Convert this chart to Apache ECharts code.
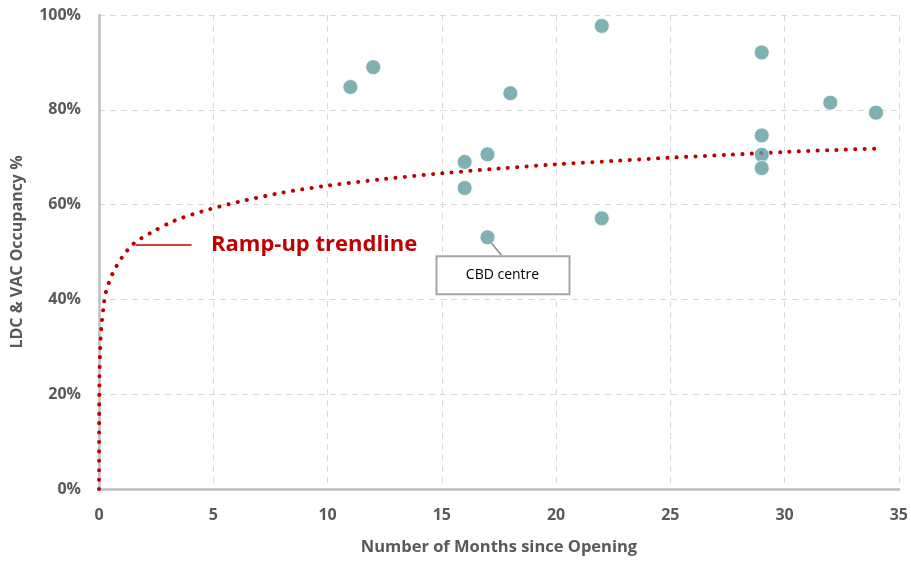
<!DOCTYPE html>
<html><head><meta charset="utf-8">
<script src="https://cdn.jsdelivr.net/npm/echarts@6/dist/echarts.min.js"></script>
<style>html,body{margin:0;padding:0;background:#fff}#c{width:911px;height:561px}</style>
</head><body><div id="c"></div>
<script>
// Observed sites: months since opening, occupancy %
const months = [11, 12, 16, 16, 17, 17, 18, 22, 22, 29, 29, 29, 29, 32, 34];
const occupancy = [84.8, 89.0, 69.0, 63.5, 70.6, 53.1, 83.5, 97.7, 57.1, 92.1, 74.6, 70.5, 67.7, 81.5, 79.4];
// Ramp-up trendline, points
const trendMonths = [0, 0.005, 0.02, 0.05, 0.1, 0.2, 0.3, 0.6, 1, 1.5, 2.25, 3.3, 4.75, 6.4, 8, 10, 12.5, 15, 17.5, 20, 22.5, 25, 27.5, 30, 32, 34];
const trendOcc =    [0, 14, 23.5, 29.5, 34, 38.5, 41.5, 45.5, 48.8, 51.7, 54, 56.6, 58.9, 60.9, 62.5, 64, 65.4, 66.6, 67.6, 68.5, 69.2, 69.9, 70.5, 71.1, 71.5, 71.8];
const xTicks = [0, 5, 10, 15, 20, 25, 30, 35];
const yTicks = [0, 20, 40, 60, 80, 100];
const cbdIndex = 5;

const FONT = '"Open Sans", "Liberation Sans", sans-serif';
const GREY = '#595959';
const chart = echarts.init(document.getElementById('c'));
const scatterData = months.map((m, i) => [m, occupancy[i]]);
const trendData = trendMonths.map((m, i) => [m, trendOcc[i]]);

chart.setOption({
  animation: false,
  grid: {left: 99, right: 9, top: 15, bottom: 65},
  xAxis: {
    type: 'value', min: xTicks[0], max: xTicks[xTicks.length - 1], interval: 5,
    name: 'Number of Months since Opening', nameLocation: 'middle', nameGap: 50,
    nameTextStyle: {color: GREY, fontFamily: FONT, fontWeight: 'bold', fontSize: 16.5},
    axisLine: {show: true, lineStyle: {color: '#BFBFBF', width: 2.5}},
    axisTick: {show: false},
    axisLabel: {color: GREY, fontFamily: FONT, fontWeight: 'bold', fontSize: 16, margin: 18},
    splitLine: {show: true, lineStyle: {color: '#D9D9D9', type: [6, 5], width: 1}}
  },
  yAxis: {
    type: 'value', min: yTicks[0], max: yTicks[yTicks.length - 1], interval: 20,
    name: 'LDC & VAC Occupancy %', nameLocation: 'middle', nameGap: 74,
    nameTextStyle: {color: GREY, fontFamily: FONT, fontWeight: 'bold', fontSize: 16},
    axisLine: {show: true, lineStyle: {color: '#BFBFBF', width: 2.5}},
    axisTick: {show: false},
    axisLabel: {color: GREY, fontFamily: FONT, fontWeight: 'bold', fontSize: 16, margin: 18, formatter: '{value}%'},
    splitLine: {show: true, lineStyle: {color: '#D9D9D9', type: [6, 5], width: 1}}
  },
  series: [
    {
      type: 'line', data: trendData, smooth: 0.3, showSymbol: false, z: 3,
      lineStyle: {color: '#C00000', width: 4, type: [0.1, 9.3], cap: 'round'}
    },
    {
      type: 'scatter', data: scatterData, symbolSize: 15, z: 4,
      itemStyle: {color: '#5F9EA0', borderColor: '#ffffff', borderWidth: 1}
    }
  ]
});

// Annotations positioned from data coordinates
const p = (x, y) => chart.convertToPixel({gridIndex: 0}, [x, y]);
const cbd = p(months[cbdIndex], occupancy[cbdIndex]);
const lead0 = p(1.6, 51.5), lead1 = p(4.05, 51.5);
const txt = p(4.9, 51.5);
chart.setOption({
  graphic: [
    {type: 'line', shape: {x1: lead0[0], y1: lead0[1], x2: lead1[0], y2: lead1[1]}, style: {stroke: '#C00000', lineWidth: 1.5}, z: 10},
    {type: 'text', x: txt[0], y: txt[1], style: {text: 'Ramp-up trendline', fill: '#C00000', font: 'bold 22px ' + FONT, textVerticalAlign: 'middle'}, z: 10},
    {type: 'line', shape: {x1: cbd[0] + 4, y1: cbd[1] + 6, x2: cbd[0] + 14, y2: cbd[1] + 18}, style: {stroke: '#8C8C8C', lineWidth: 1.5}, z: 10},
    {type: 'rect', shape: {x: cbd[0] - 51, y: cbd[1] + 19, width: 133, height: 38}, style: {fill: '#ffffff', stroke: '#A6A6A6', lineWidth: 2}, z: 10},
    {type: 'text', x: cbd[0] + 15, y: cbd[1] + 38, style: {text: 'CBD centre', fill: '#000000', font: '14px ' + FONT, textAlign: 'center', textVerticalAlign: 'middle'}, z: 11}
  ]
});
</script></body></html>
